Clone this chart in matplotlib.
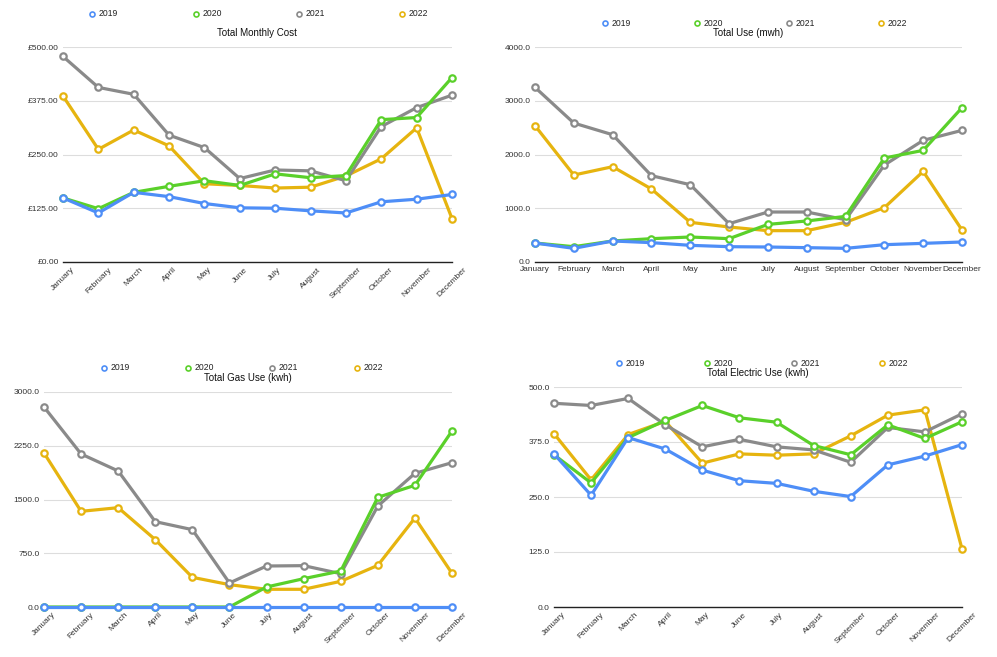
import matplotlib.pyplot as plt
from matplotlib.lines import Line2D
from matplotlib.ticker import FuncFormatter

months = ['January', 'February', 'March', 'April', 'May', 'June', 'July',
          'August', 'September', 'October', 'November', 'December']
years = ['2019', '2020', '2021', '2022']
colours = ['#4e8ef7', '#5ad02a', '#8a8a8a', '#e6b40f']

# Total Monthly Cost (GBP)
cost_2019 = [149, 114, 162, 152, 136, 126, 125, 119, 114, 140, 146, 157]
cost_2020 = [149, 124, 162, 176, 189, 178, 205, 196, 201, 331, 336, 429]
cost_2021 = [478, 406, 390, 295, 266, 194, 214, 212, 189, 315, 359, 388]
cost_2022 = [386, 262, 307, 270, 182, 178, 172, 174, 200, 240, 312, 101]

# Total Use (mwh)
use_2019 = [353, 254, 391, 360, 310, 285, 279, 267, 254, 322, 347, 372]
use_2020 = [353, 285, 391, 434, 465, 434, 700, 763, 849, 1934, 2077, 2871]
use_2021 = [3249, 2585, 2368, 1606, 1438, 713, 930, 930, 787, 1804, 2263, 2449]
use_2022 = [2536, 1618, 1773, 1358, 738, 651, 583, 583, 738, 1011, 1686, 595]

# Total Gas Use (kwh)
gas_2019 = [0, 0, 0, 0, 0, 0, 0, 0, 0, 0, 0, 0]
gas_2020 = [0, 0, 0, 0, 0, 0, 279, 395, 502, 1530, 1698, 2456]
gas_2021 = [2791, 2135, 1898, 1191, 1079, 335, 572, 577, 465, 1409, 1865, 2014]
gas_2022 = [2149, 1335, 1386, 940, 414, 312, 247, 247, 358, 581, 1242, 470]

# Total Electric Use (kwh)
elec_2019 = [348, 254, 385, 359, 311, 287, 281, 263, 251, 323, 343, 369]
elec_2020 = [346, 282, 385, 424, 458, 430, 420, 367, 346, 414, 383, 421]
elec_2021 = [463, 458, 474, 414, 364, 381, 364, 357, 329, 408, 398, 439]
elec_2022 = [394, 289, 392, 422, 327, 348, 345, 348, 389, 436, 448, 132]

W, H = 997, 657
fig = plt.figure(figsize=(W / 100, H / 100), dpi=100)
plt.rcParams['font.family'] = ['Liberation Sans', 'DejaVu Sans']


def px_axes(x0, x1, y0, y1):
    return fig.add_axes([x0 / W, 1 - y1 / H, (x1 - x0) / W, (y1 - y0) / H])


def draw(box, series, ymax, step, fmt, title, title_xy, legend_y, legend_x, rotate):
    ax = px_axes(*box)
    x = list(range(len(months)))
    for i in range(3, -1, -1):
        ax.plot(x, series[i], color=colours[i], lw=2.3, marker='o', ms=4.6,
                mfc='white', mec=colours[i], mew=1.6, zorder=3 + (3 - i), clip_on=False)
    ax.set_xlim(0, 11)
    ax.set_ylim(0, ymax)
    ax.set_yticks([step * k for k in range(5)])
    ax.yaxis.set_major_formatter(FuncFormatter(fmt))
    ax.grid(axis='y', color='#dddddd', lw=0.8)
    ax.set_axisbelow(True)
    for s in ['top', 'right', 'left']:
        ax.spines[s].set_visible(False)
    ax.spines['bottom'].set_color('#222222')
    ax.spines['bottom'].set_linewidth(1.0)
    ax.tick_params(length=0, labelsize=6, colors='#333333', pad=3)
    ax.set_xticks(x)
    if rotate:
        ax.set_xticklabels(months, rotation=45, ha='center')
    else:
        ax.set_xticklabels(months)
    fig.text(title_xy[0] / W, 1 - title_xy[1] / H, title, ha='center', va='center',
             fontsize=7, color='#111111')
    for i in range(4):
        lx = legend_x[i]
        fig.add_artist(Line2D([lx / W], [1 - legend_y / H], marker='o', ms=3.6,
                              mfc='none', mec=colours[i], mew=1.2, ls='none',
                              transform=fig.transFigure))
        fig.text((lx + 7) / W, 1 - legend_y / H, years[i], ha='left', va='center',
                 fontsize=6.2, color='#222222')
    return ax


draw((63, 452, 47, 262), [cost_2019, cost_2020, cost_2021, cost_2022], 500, 125,
     lambda v, p: '£{:.2f}'.format(v), 'Total Monthly Cost', (257, 33), 14,
     [92, 196, 299, 402], True)
draw((535, 962, 47, 262), [use_2019, use_2020, use_2021, use_2022], 4000, 1000,
     lambda v, p: '{:.1f}'.format(v), 'Total Use (mwh)', (748, 33), 23,
     [605, 697, 789, 881], False)
draw((44, 452, 392, 607), [gas_2019, gas_2020, gas_2021, gas_2022], 3000, 750,
     lambda v, p: '{:.1f}'.format(v), 'Total Gas Use (kwh)', (248, 378), 368,
     [104, 188, 272, 357], True)
draw((554, 962, 387, 607), [elec_2019, elec_2020, elec_2021, elec_2022], 500, 125,
     lambda v, p: '{:.1f}'.format(v), 'Total Electric Use (kwh)', (758, 373), 363,
     [619, 707, 794, 882], True)

fig.savefig('out.png', dpi=100)
